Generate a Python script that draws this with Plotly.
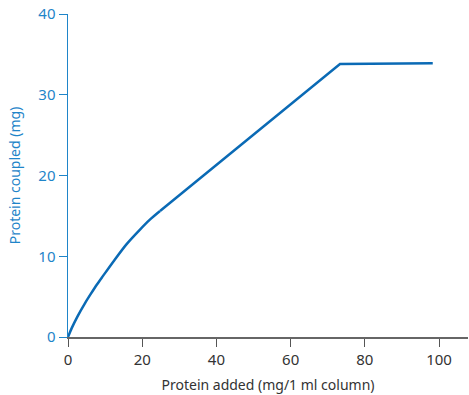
import plotly.graph_objects as go

protein_added = [0, 1.0, 2.5, 4.6, 6.1, 7.8, 9.5, 12.4, 15.8, 19.4, 22.0, 24.8, 73.3, 98.3]
protein_coupled = [0, 1.1, 2.5, 4.2, 5.3, 6.5, 7.6, 9.45, 11.5, 13.3, 14.5, 15.6, 33.8, 33.9]

x_ticks = [0, 20, 40, 60, 80, 100]
y_ticks = [0, 10, 20, 30, 40]

blue_axis = "#1f85c9"
line_color = "#0a6ab5"
font_family = "Noto Sans, Lato, sans-serif"

knee = 11  # index where the curved rise turns into the straight segment

fig = go.Figure()
fig.add_trace(go.Scatter(
    x=protein_added[:knee + 1], y=protein_coupled[:knee + 1], mode="lines",
    line=dict(color=line_color, width=2.5, shape="spline", smoothing=0.8),
    hoverinfo="skip", showlegend=False,
))
fig.add_trace(go.Scatter(
    x=protein_added[knee:], y=protein_coupled[knee:], mode="lines",
    line=dict(color=line_color, width=2.5, shape="linear"),
    hoverinfo="skip", showlegend=False,
))

fig.update_layout(
    width=469, height=395,
    margin=dict(l=68, r=1, t=14, b=58),
    paper_bgcolor="white", plot_bgcolor="white",
    font=dict(family=font_family, size=14),
    xaxis=dict(
        range=[0, 107.8], tickvals=x_ticks, ticks="outside", ticklen=8,
        tickcolor="#555555", showline=True, linecolor="#666666", linewidth=2,
        showgrid=False, zeroline=False, tickfont=dict(color="#333333", size=15),
        automargin=False, ticklabeloverflow="allow",
        title=dict(text="Protein added (mg/1 ml column)", font=dict(color="#333333", size=14), standoff=12),
    ),
    yaxis=dict(
        range=[0, 40], tickvals=y_ticks, ticks="outside", ticklen=8,
        tickcolor=blue_axis, showline=True, linecolor=blue_axis, linewidth=1.5,
        showgrid=False, zeroline=False, tickfont=dict(color=blue_axis, size=15),
        automargin=False, ticklabeloverflow="allow",
        title=dict(text="Protein coupled (mg)", font=dict(color=blue_axis, size=14), standoff=14),
    ),
)

fig.write_html(
    "out.html",
    config={"displayModeBar": False, "staticPlot": True},
    post_script="document.body.style.margin='0';",
)
